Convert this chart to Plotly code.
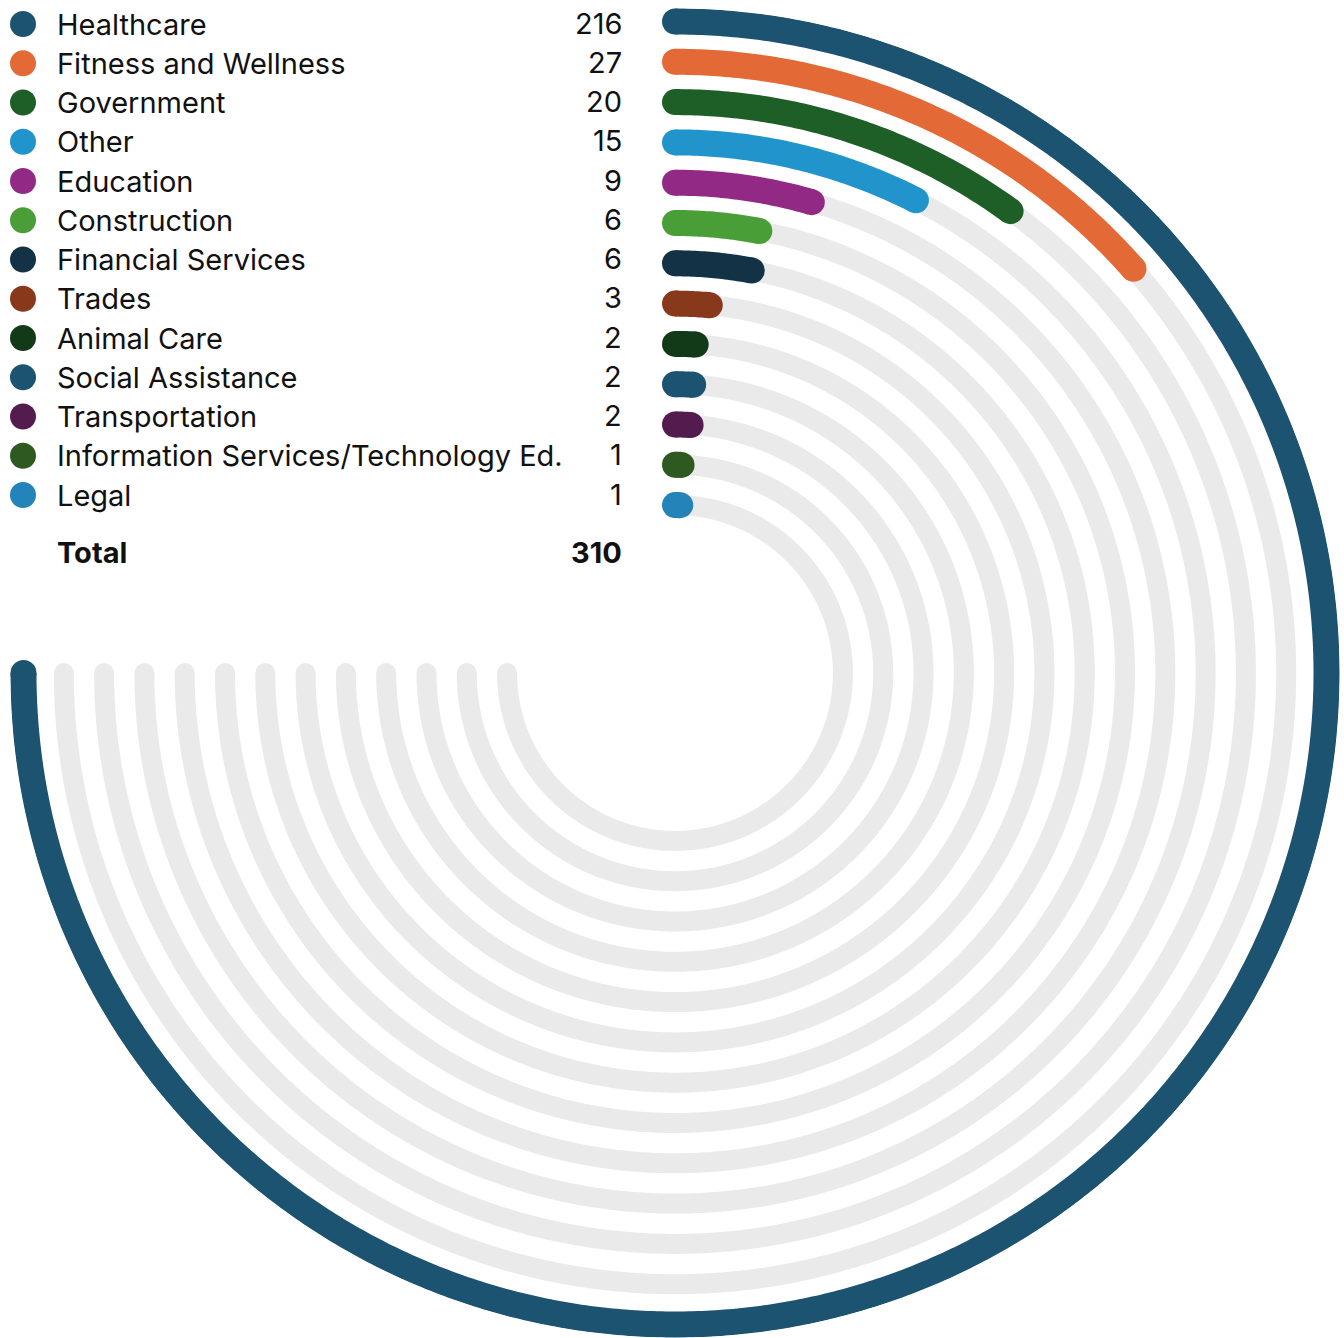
import numpy as np
import plotly.graph_objects as go

# ---------------- data ----------------
categories = [
    "Healthcare", "Fitness and Wellness", "Government", "Other", "Education",
    "Construction", "Financial Services", "Trades", "Animal Care",
    "Social Assistance", "Transportation",
    "Information Services/Technology Ed.", "Legal",
]
values = [216, 27, 20, 15, 9, 6, 6, 3, 2, 2, 2, 1, 1]
colors = [
    "#1B5371", "#E36A36", "#1E5E27", "#2294CC", "#922A85",
    "#4A9E37", "#133246", "#88391B", "#123A19",
    "#1B5371", "#541C4E", "#2E5A22", "#2483B8",
]
total_label = "Total"
total_value = 310

# ---------------- styling / layout constants ----------------
W, H = 1344, 1338
CX, CY = 675, 673            # centre of the rings (px)
POLAR_R = 665                # polar radius in px (radial unit = 1 px)
OUTER_R = 651.5              # radius of first ring
STEP = 40.3                  # ring spacing
ARC_W = 26                   # coloured arc width
TRACK_W = 20                 # grey track width
TRACK_COLOR = "#EAEAEA"
SCALE_MAX = 150              # value reaching the full 270 degree sweep
SWEEP = 270
FONT = "Inter"
FONT_SIZE = 29
TEXT_COLOR = "#111111"
LEG_Y0, LEG_STEP = 24, 39.25  # legend row positions (px from top)
TOTAL_Y = 552


def arc_trace(radius, end_deg, color, width):
    n = max(2, int(np.ceil(end_deg / 0.4)) + 1)
    theta = np.linspace(0, end_deg, n)
    sizes = [0] * n
    sizes[0] = width
    sizes[-1] = width
    return go.Scatterpolar(
        r=[radius] * n,
        theta=theta,
        mode="lines+markers",
        line=dict(color=color, width=width),
        marker=dict(size=sizes, color=color, opacity=1, line=dict(width=0)),
        cliponaxis=False,
        hoverinfo="skip",
        showlegend=False,
    )


fig = go.Figure()

radii = [OUTER_R - i * STEP for i in range(len(categories))]

# grey tracks
for rad in radii:
    fig.add_trace(arc_trace(rad, SWEEP, TRACK_COLOR, TRACK_W))

# coloured arcs
for rad, v, c in zip(radii, values, colors):
    end = min(v, SCALE_MAX) / SCALE_MAX * SWEEP
    fig.add_trace(arc_trace(rad, end, c, ARC_W))

# legend markers (cartesian overlay in pixel units)
row_y = [LEG_Y0 + i * LEG_STEP for i in range(len(categories))]
fig.add_trace(go.Scatter(
    x=[23] * len(categories), y=row_y, mode="markers",
    marker=dict(size=26, color=colors, opacity=1, line=dict(width=0)),
    hoverinfo="skip", showlegend=False, xaxis="x", yaxis="y",
))

annotations = []
for name, v, y in zip(categories, values, row_y):
    annotations.append(dict(
        x=55, y=y, xref="x", yref="y", text=name, showarrow=False,
        xanchor="left", yanchor="middle",
        font=dict(family=FONT, size=FONT_SIZE, color=TEXT_COLOR),
    ))
    annotations.append(dict(
        x=624, y=y - 1, xref="x", yref="y", text=str(v), showarrow=False,
        xanchor="right", yanchor="middle",
        font=dict(family=FONT, size=FONT_SIZE, color=TEXT_COLOR),
    ))
annotations.append(dict(
    x=55, y=TOTAL_Y, xref="x", yref="y", text=f"<b>{total_label}</b>",
    showarrow=False, xanchor="left", yanchor="middle",
    font=dict(family=FONT, size=FONT_SIZE, color=TEXT_COLOR),
))
annotations.append(dict(
    x=624, y=TOTAL_Y, xref="x", yref="y", text=f"<b>{total_value}</b>",
    showarrow=False, xanchor="right", yanchor="middle",
    font=dict(family=FONT, size=FONT_SIZE, color=TEXT_COLOR),
))

fig.update_layout(
    width=W, height=H,
    margin=dict(l=0, r=0, t=0, b=0),
    paper_bgcolor="white",
    plot_bgcolor="white",
    showlegend=False,
    hovermode=False,
    annotations=annotations,
    xaxis=dict(range=[0, W], visible=False, domain=[0, 1], fixedrange=True),
    yaxis=dict(range=[H, 0], visible=False, domain=[0, 1], fixedrange=True),
    polar=dict(
        domain=dict(x=[(CX - POLAR_R) / W, (CX + POLAR_R) / W],
                    y=[(H - CY - POLAR_R) / H, (H - CY + POLAR_R) / H]),
        bgcolor="rgba(0,0,0,0)",
        hole=0,
        radialaxis=dict(range=[0, POLAR_R], visible=False),
        angularaxis=dict(rotation=90, direction="clockwise", visible=False),
    ),
)

fig.write_html(
    "out.html",
    config={"displayModeBar": False, "staticPlot": True},
    post_script="document.body.style.margin='0';document.body.style.overflow='hidden';",
)
